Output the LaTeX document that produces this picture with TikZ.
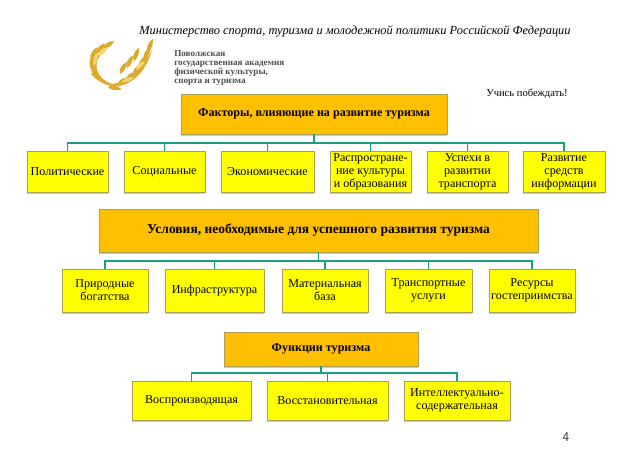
\documentclass[tikz,border=0pt]{standalone}
\usepackage{fontspec}
\setmainfont{Liberation Serif}
\usetikzlibrary{positioning,shadows}
\definecolor{orangebox}{RGB}{255,192,0}
\definecolor{yellowbox}{RGB}{255,255,0}
\definecolor{linkteal}{RGB}{28,158,128}
\definecolor{goldleaf}{RGB}{222,168,40}
\definecolor{goldpale}{RGB}{245,214,110}
\definecolor{boxedge}{RGB}{170,160,90}
\begin{document}
\begin{tikzpicture}[x=0.25mm,y=-0.25mm,
      boxbase/.style={rectangle,draw=boxedge,line width=0.3pt,inner sep=0pt,align=center,
        drop shadow={shadow xshift=0.3pt,shadow yshift=-1.1pt,opacity=0.4}},
      head/.style={boxbase,fill=orangebox,font=\fontsize{8.6}{10}\selectfont\bfseries},
      item/.style={boxbase,fill=yellowbox,font=\fontsize{8.6}{9.2}\selectfont},
      link/.style={draw=linkteal,line width=1.2pt},
      leaf/.pic={\fill[goldleaf] (0,0) .. controls (3,-3.5) and (9,-3.5) .. (14,0) .. controls (9,2.5) and (3,2.5) .. (0,0);},
      paleleaf/.pic={\fill[goldpale] (0,0) .. controls (3,-3) and (9,-3) .. (13,0) .. controls (9,2) and (3,2) .. (0,0);}]
    \useasboundingbox (0,0) rectangle (624,467);
    % header
    \node[font=\fontsize{8.8}{11}\selectfont\itshape] (ministry) at (355,31) {Министерство спорта, туризма и молодежной политики Российской Федерации};
    \node[font=\fontsize{6.5}{6.4}\selectfont\bfseries,text=black!70,align=left,anchor=west,inner sep=0pt] (academy) at (174,67.5) {Поволжская\\государственная академия\\физической культуры,\\спорта и туризма};
    \node[font=\fontsize{7.5}{8}\selectfont] (motto) at (527,94) {Учись побеждать!};
    \node[font=\fontsize{9.5}{11}\selectfont\sffamily,text=black!80] (pagenum) at (566,437) {4};
    % laurel
    \fill[goldleaf] (112,86) .. controls (88,82) and (84,58) .. (104,52) .. controls (92,60) and (94,78) .. (112,84) .. controls (128,82) and (142,68) .. (152,50) .. controls (146,72) and (130,88) .. (112,86);
    \foreach \lx/\ly/\la in {91/68/80,91/60/65,96/54/50,103/49/35,97/75/120,103/80/150,
        118/83/20,126/79/30,133/73/40,139/66/50,144/59/60,148/52/70,
        120/74/60,127/68/65,134/61/70,108/87/-10}
      \pic[rotate=\la] at (\lx,\ly) {leaf};
    \foreach \lx/\ly/\la in {94/66/75,99/56/45,122/82/20,136/70/45}
      \pic[rotate=\la] at (\lx,\ly) {paleleaf};
    % first group
    \node[head,minimum width=66.5mm,minimum height=10mm] (fac) at (314,114) {Факторы, влияющие на развитие туризма};
    \foreach \i/\cx/\w/\txt in {1/67.5/81/Политические,2/164.5/81/Социальные,3/267.5/93/Экономические,
        4/370.5/81/{Распростране-\\ние культуры\\и образования},5/467.5/81/{Успехи в\\развитии\\транспорта},6/564/82/{Развитие\\средств\\информации}} {
      \node[item,minimum width=\w*0.25mm,minimum height=10.25mm] (fc\i) at (\cx,171.5) {\txt};
      \draw[link] (fac.south) -- ++(0,9) -| (fc\i.north);
    }
    % second group
    \node[head,font=\fontsize{9.6}{11}\selectfont\bfseries,minimum width=109.75mm,minimum height=10.75mm] (cond) at (318.5,230.5) {Условия, необходимые для успешного развития туризма};
    \foreach \i/\cx/\w/\txt in {1/105/86/{Природные\\богатства},2/214.5/99/Инфраструктура,3/325/86/{Материальная\\база},
        4/428.5/87/{Транспортные\\услуги},5/532/86/{Ресурсы\\гостеприимства}} {
      \node[item,minimum width=\w*0.25mm,minimum height=10.75mm] (cn\i) at (\cx,290.5) {\txt};
      \draw[link] (cond.south) -- ++(0,9) -| (cn\i.north);
    }
    % third group
    \node[head,minimum width=48.5mm,minimum height=8.5mm] (func) at (321,349) {Функции туризма};
    \foreach \i/\cx/\w/\txt in {1/191.5/119/Воспроизводящая,2/327.5/121/Восстановительная,3/457/106/{Интеллектуально-\\содержательная}} {
      \node[item,minimum width=\w*0.25mm,minimum height=9.75mm] (fn\i) at (\cx,400.5) {\txt};
      \draw[link] (func.south) -- ++(0,7) -| (fn\i.north);
    }
  \end{tikzpicture}
\end{document}
